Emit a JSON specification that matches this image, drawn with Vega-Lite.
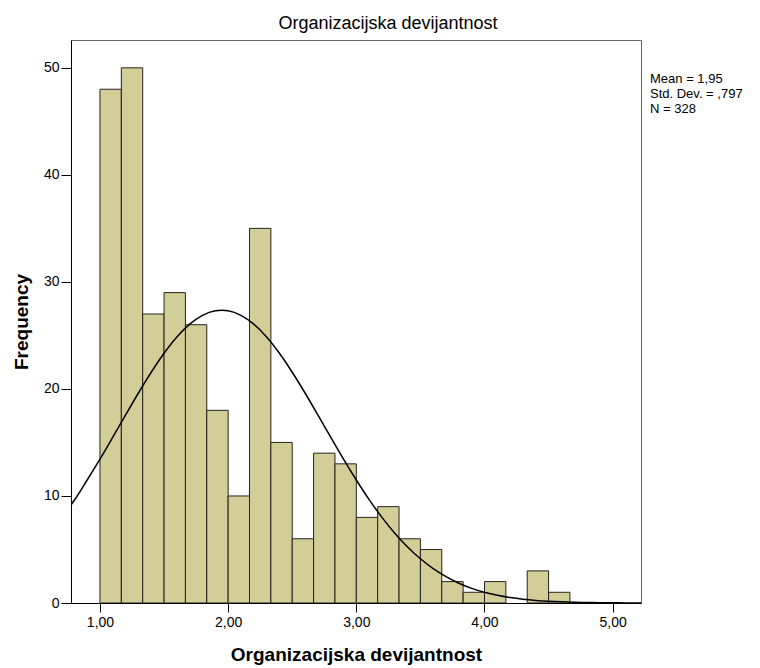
{
  "$schema": "https://vega.github.io/schema/vega-lite/v6.json",
  "autosize": {"type": "none"},
  "padding": {"left": 71, "top": 40, "right": 119, "bottom": 65},
  "width": 570,
  "height": 563,
  "background": "white",
  "title": {
    "text": "Organizacijska devijantnost",
    "font": "Liberation Sans",
    "fontSize": 18,
    "fontWeight": "normal",
    "color": "#000",
    "anchor": "middle",
    "dx": 32,
    "offset": 7
  },
  "config": {
    "view": {"fill": "#F0F0F0", "stroke": "#666", "strokeWidth": 1},
    "axis": {
      "grid": false,
      "domainColor": "#000",
      "tickColor": "#000",
      "labelColor": "#000",
      "titleColor": "#000",
      "labelFont": "Liberation Sans",
      "titleFont": "Liberation Sans",
      "labelFontSize": 14,
      "titleFontSize": 19,
      "titleFontWeight": "bold"
    }
  },
  "datasets": {
    "bins": [
      {"bin_start": 1.0, "bin_end": 1.1667, "count": 48},
      {"bin_start": 1.1667, "bin_end": 1.3333, "count": 50},
      {"bin_start": 1.3333, "bin_end": 1.5, "count": 27},
      {"bin_start": 1.5, "bin_end": 1.6667, "count": 29},
      {"bin_start": 1.6667, "bin_end": 1.8333, "count": 26},
      {"bin_start": 1.8333, "bin_end": 2.0, "count": 18},
      {"bin_start": 2.0, "bin_end": 2.1667, "count": 10},
      {"bin_start": 2.1667, "bin_end": 2.3333, "count": 35},
      {"bin_start": 2.3333, "bin_end": 2.5, "count": 15},
      {"bin_start": 2.5, "bin_end": 2.6667, "count": 6},
      {"bin_start": 2.6667, "bin_end": 2.8333, "count": 14},
      {"bin_start": 2.8333, "bin_end": 3.0, "count": 13},
      {"bin_start": 3.0, "bin_end": 3.1667, "count": 8},
      {"bin_start": 3.1667, "bin_end": 3.3333, "count": 9},
      {"bin_start": 3.3333, "bin_end": 3.5, "count": 6},
      {"bin_start": 3.5, "bin_end": 3.6667, "count": 5},
      {"bin_start": 3.6667, "bin_end": 3.8333, "count": 2},
      {"bin_start": 3.8333, "bin_end": 4.0, "count": 1},
      {"bin_start": 4.0, "bin_end": 4.1667, "count": 2},
      {"bin_start": 4.3333, "bin_end": 4.5, "count": 3},
      {"bin_start": 4.5, "bin_end": 4.6667, "count": 1}
    ],
    "curve": [
      {"x": 0.774, "y": 9.17},
      {"x": 0.8, "y": 9.6},
      {"x": 0.9, "y": 11.49},
      {"x": 1.0, "y": 13.44},
      {"x": 1.1, "y": 15.49},
      {"x": 1.2, "y": 17.57},
      {"x": 1.3, "y": 19.62},
      {"x": 1.4, "y": 21.56},
      {"x": 1.5, "y": 23.33},
      {"x": 1.6, "y": 24.85},
      {"x": 1.7, "y": 26.05},
      {"x": 1.8, "y": 26.88},
      {"x": 1.9, "y": 27.31},
      {"x": 1.95, "y": 27.36},
      {"x": 2.0, "y": 27.31},
      {"x": 2.1, "y": 26.88},
      {"x": 2.2, "y": 26.05},
      {"x": 2.3, "y": 24.85},
      {"x": 2.4, "y": 23.33},
      {"x": 2.5, "y": 21.56},
      {"x": 2.6, "y": 19.62},
      {"x": 2.7, "y": 17.57},
      {"x": 2.8, "y": 15.49},
      {"x": 2.9, "y": 13.44},
      {"x": 3.0, "y": 11.49},
      {"x": 3.1, "y": 9.66},
      {"x": 3.2, "y": 8.0},
      {"x": 3.3, "y": 6.52},
      {"x": 3.4, "y": 5.23},
      {"x": 3.5, "y": 4.13},
      {"x": 3.6, "y": 3.21},
      {"x": 3.7, "y": 2.46},
      {"x": 3.8, "y": 1.85},
      {"x": 3.9, "y": 1.37},
      {"x": 4.0, "y": 1.0},
      {"x": 4.1, "y": 0.72},
      {"x": 4.2, "y": 0.51},
      {"x": 4.3, "y": 0.354},
      {"x": 4.4, "y": 0.243},
      {"x": 4.5, "y": 0.164},
      {"x": 4.6, "y": 0.109},
      {"x": 4.7, "y": 0.071},
      {"x": 4.8, "y": 0.046},
      {"x": 4.9, "y": 0.029},
      {"x": 5.0, "y": 0.018},
      {"x": 5.1, "y": 0.011},
      {"x": 5.221, "y": 0.005}
    ],
    "stats": [
      {"order": 1, "stat": "Mean = 1,95"},
      {"order": 2, "stat": "Std. Dev. = ,797"},
      {"order": 3, "stat": "N = 328"}
    ]
  },
  "layer": [
    {
      "data": {"name": "bins"},
      "mark": {"type": "bar", "fill": "#D3CE97", "stroke": "#222", "strokeWidth": 1, "clip": true},
      "encoding": {
        "x": {
          "field": "bin_start",
          "type": "quantitative",
          "scale": {"domain": [0.774, 5.221], "nice": false, "zero": false},
          "axis": {
            "values": [1, 2, 3, 4, 5],
            "labelExpr": "replace(format(datum.value, '.2f'), '.', ',')",
            "tickSize": 9,
            "labelPadding": 3,
            "title": "Organizacijska devijantnost",
            "titlePadding": 16
          }
        },
        "x2": {"field": "bin_end"},
        "y": {
          "field": "count",
          "type": "quantitative",
          "scale": {"domain": [0, 52.6], "nice": false},
          "axis": {
            "values": [0, 10, 20, 30, 40, 50],
            "tickSize": 10,
            "labelPadding": 2,
            "title": "Frequency",
            "titlePadding": 12
          }
        },
        "y2": {"datum": 0}
      }
    },
    {
      "data": {"name": "curve"},
      "mark": {"type": "line", "color": "#000", "strokeWidth": 1.5, "clip": true, "interpolate": "monotone"},
      "encoding": {
        "x": {"field": "x", "type": "quantitative"},
        "y": {"field": "y", "type": "quantitative"}
      }
    },
    {
      "data": {"name": "stats"},
      "mark": {"type": "point", "opacity": 0},
      "encoding": {
        "color": {
          "field": "stat",
          "type": "nominal",
          "sort": {"field": "order"},
          "scale": {"range": ["#000", "#000", "#000"]},
          "legend": {
            "title": null,
            "orient": "none",
            "legendX": 566,
            "legendY": 32,
            "symbolSize": 0,
            "symbolOpacity": 0,
            "symbolStrokeWidth": 0,
            "labelOffset": 0,
            "labelFont": "Liberation Sans",
            "labelFontSize": 13,
            "labelColor": "#000",
            "labelLimit": 0,
            "rowPadding": 1,
            "padding": 0
          }
        }
      }
    }
  ]
}
